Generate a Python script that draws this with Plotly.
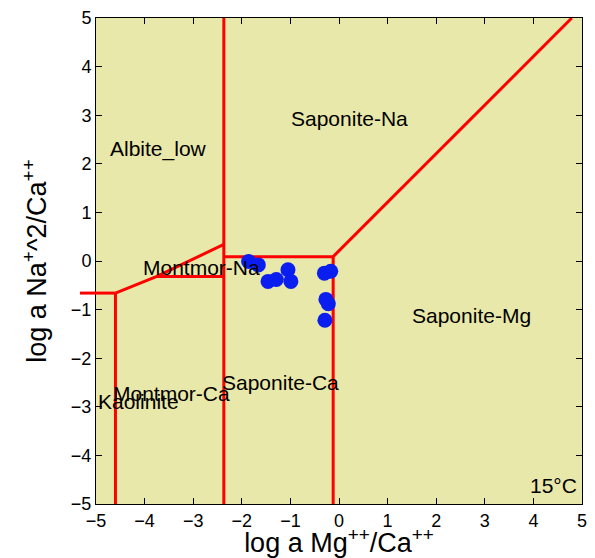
import plotly.graph_objects as go

# Sample points
pts_x = [-1.86, -1.66, -1.46, -1.29, -1.05, -0.99, -0.30, -0.17, -0.27, -0.22, -0.29]
pts_y = [-0.01, -0.08, -0.42, -0.38, -0.18, -0.42, -0.25, -0.21, -0.79, -0.88, -1.22]

# Phase boundaries (segments)
boundaries = [
    ([-5.0, -4.6], [-0.66, -0.66]),
    ([-4.6, -4.6], [-0.66, -5.0]),
    ([-4.6, -3.76, -2.37], [-0.66, -0.32, 0.34]),
    ([-3.76, -2.37], [-0.32, -0.32]),
    ([-2.37, -2.37], [5.0, -5.0]),
    ([-2.37, -0.12], [0.09, 0.09]),
    ([-0.12, -0.12], [0.09, -5.0]),
    ([-0.12, 4.79], [0.09, 5.0]),
]

labels = ["Saponite-Na", "Albite_low", "Montmor-Na", "Saponite-Mg",
          "Montmor-Ca", "Kaolinite", "Saponite-Ca"]
label_x = [0.21, -3.72, -2.82, 2.72, -3.45, -4.12, -1.21]
label_y = [2.89, 2.26, -0.17, -1.16, -2.77, -2.93, -2.55]

xticks = [-5, -4, -3, -2, -1, 0, 1, 2, 3, 4, 5]
yticks = [-5, -4, -3, -2, -1, 0, 1, 2, 3, 4, 5]

FONT = "Liberation Sans, Arial"

fig = go.Figure()
for bx, by in boundaries:
    fig.add_trace(go.Scatter(x=bx, y=by, mode="lines",
                             line=dict(color="#FF0000", width=3),
                             hoverinfo="skip", showlegend=False))

fig.add_trace(go.Scatter(x=pts_x, y=pts_y, mode="markers",
                         marker=dict(color="#0A1EF0", size=15, line=dict(width=0)),
                         showlegend=False))

for t, lx, ly in zip(labels, label_x, label_y):
    fig.add_annotation(x=lx, y=ly, text=t, showarrow=False, yshift=2,
                       font=dict(family=FONT, size=21, color="black"))

fig.add_annotation(x=1, y=0, xref="paper", yref="paper", xanchor="right", yanchor="bottom",
                   text="15°C", showarrow=False, xshift=-3, yshift=5,
                   font=dict(family=FONT, size=21, color="black"))

# small extension of the left boundary outside the axes
fig.add_shape(type="line", xref="paper", yref="y", x0=-0.033, x1=0.0, y0=-0.66, y1=-0.66,
              line=dict(color="#FF0000", width=3))

axis_common = dict(showgrid=False, zeroline=False, showline=True, linecolor="black",
                   linewidth=1, mirror="ticks", ticks="inside", ticklen=6,
                   tickcolor="black", tickfont=dict(family=FONT, size=18, color="black"))

fig.update_xaxes(range=[-5, 5], tickvals=xticks, **axis_common,
                 title=dict(text="log a Mg<sup>++</sup>/Ca<sup>++</sup>",
                            font=dict(family=FONT, size=27, color="black"),
                            standoff=0))
fig.update_yaxes(range=[-5, 5], tickvals=yticks, **axis_common,
                 title=dict(text="log a Na<sup>+</sup>^2/Ca<sup>++</sup>",
                            font=dict(family=FONT, size=27, color="black"),
                            standoff=16))

fig.update_layout(width=595, height=558, margin=dict(l=96, r=8, t=15, b=54),
                  plot_bgcolor="#E8E8AA", paper_bgcolor="white", showlegend=False)

fig.write_html("out.html")
